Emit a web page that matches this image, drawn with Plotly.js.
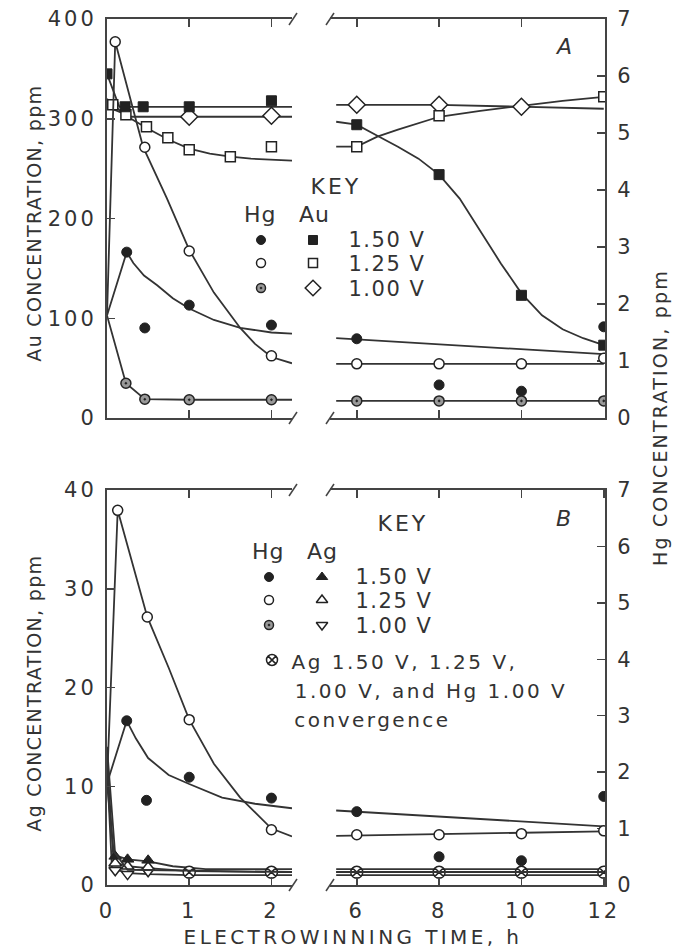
<!DOCTYPE html>
<html><head><meta charset="utf-8">
<script src="https://cdn.plot.ly/plotly-3.0.1.min.js"></script>
<style>
body{margin:0;background:#fff}
#chart g[class$="tick"] text{letter-spacing:3px}
</style>
</head><body><div id="chart" style="width:685px;height:951px"></div>
<script>
// ================= DATA =================
// ---- Panel A : Au (left axis, ppm) ----
const auA150_t = [0, 0.22, 0.44, 1, 2];
const auA150   = [345, 312, 312, 312, 318];
const auA150_fit_t = [0, 0.15, 2.25];
const auA150_fit   = [345, 312, 312];
const auA150R_t = [6, 8, 10, 12];
const auA150R   = [294, 244, 123, 73];
const auA150R_fit_t = [5.5, 6, 6.5, 7, 7.5, 8, 8.5, 9, 9.5, 10, 10.5, 11, 11.5, 12];
const auA150R_fit   = [297, 294, 283, 272, 260, 244, 220, 188, 155, 125, 103, 89, 80, 73];

const auA125_t = [0.07, 0.23, 0.48, 0.74, 1, 1.5, 2];
const auA125   = [314, 304, 292, 281, 269, 262, 272];
const auA125_fit_t = [0, 0.07, 0.25, 0.5, 0.75, 1, 1.25, 1.5, 1.75, 2, 2.25];
const auA125_fit   = [320, 314, 302, 290, 279, 270, 265, 262, 260, 259, 258];
const auA125R_t = [6, 8, 12];
const auA125R   = [272, 303, 322];
const auA125R_fit_t = [5.5, 6, 6.5, 7, 8, 9, 10, 11, 12];
const auA125R_fit   = [272, 272, 282, 289, 302, 308, 313, 318, 322];

const auA100_t = [1, 2];
const auA100   = [302, 303];
const auA100_fit_t = [0, 0.3, 2.25];
const auA100_fit   = [312, 302, 302];
const auA100R_t = [6, 8, 10];
const auA100R   = [314, 314, 312];
const auA100R_fit_t = [5.5, 8, 12];
const auA100R_fit   = [314, 314, 310];

// ---- Panel A : Hg (right axis, ppm) ----
const hgA150_t = [0.24, 0.46, 1, 2];
const hgA150   = [2.91, 1.58, 1.98, 1.63];
const hgA150_fit_t = [0, 0.24, 0.32, 0.45, 0.61, 0.8, 1.0, 1.3, 1.62, 2.0, 2.25];
const hgA150_fit   = [1.8, 2.91, 2.72, 2.5, 2.33, 2.1, 1.92, 1.72, 1.58, 1.5, 1.48];
const hgA150R_t = [6, 8, 10, 12];
const hgA150R   = [1.39, 0.58, 0.47, 1.6];
const hgA150R_fit_t = [5.5, 12];
const hgA150R_fit   = [1.40, 1.12];

const hgA125_t = [0.1, 0.46, 1, 2];
const hgA125   = [6.6, 4.75, 2.93, 1.09];
const hgA125_fit_t = [0, 0.1, 0.44, 0.73, 1.0, 1.3, 1.62, 1.8, 2.0, 2.25];
const hgA125_fit   = [1.8, 6.6, 4.75, 3.85, 2.95, 2.2, 1.58, 1.3, 1.07, 0.96];
const hgA125R_t = [6, 8, 10, 12];
const hgA125R   = [0.95, 0.95, 0.95, 1.05];
const hgA125R_fit_t = [5.5, 12];
const hgA125R_fit   = [0.95, 0.95];

const hgA100_t = [0.23, 0.46, 1, 2];
const hgA100   = [0.61, 0.33, 0.32, 0.32];
const hgA100_fit_t = [0, 0.23, 0.46, 1, 2.25];
const hgA100_fit   = [1.8, 0.61, 0.33, 0.32, 0.32];
const hgA100R_t = [6, 8, 10, 12];
const hgA100R   = [0.30, 0.30, 0.30, 0.30];
const hgA100R_fit_t = [5.5, 12];
const hgA100R_fit   = [0.30, 0.30];

// ---- Panel B : Ag (left axis, ppm) ----
const agB150_t = [0.1, 0.25, 0.5];
const agB150   = [2.9, 2.6, 2.5];
const agB150_fit_t = [0, 0.1, 0.25, 0.5, 0.8, 1.2, 2.25];
const agB150_fit   = [14, 3.0, 2.6, 2.4, 1.9, 1.6, 1.6];
const agB125_t = [0.1, 0.25, 0.5];
const agB125   = [2.2, 1.9, 1.8];
const agB125_fit_t = [0, 0.08, 0.25, 0.5, 1, 2.25];
const agB125_fit   = [13, 2.3, 1.9, 1.7, 1.4, 1.3];
const agB100_t = [0.1, 0.25, 0.5];
const agB100   = [1.5, 1.1, 1.4];
const agB100_fit_t = [0, 0.06, 0.25, 0.5, 1, 2.25];
const agB100_fit   = [12, 1.7, 1.2, 1.1, 1.0, 1.0];
const agBR_fit_t = [5.5, 12];
const agB150R_fit = [1.6, 1.6];
const agB125R_fit = [1.3, 1.3];
const agB100R_fit = [1.0, 1.0];
const convL_t = [1, 2];
const convL   = [1.3, 1.3];
const convR_t = [6, 8, 10, 12];
const convR   = [1.3, 1.3, 1.3, 1.3];

// ---- Panel B : Hg (right axis, ppm) ----
const hgB150_t = [0.24, 0.48, 1, 2];
const hgB150   = [2.91, 1.5, 1.91, 1.54];
const hgB150_fit_t = [0, 0.24, 0.35, 0.5, 0.75, 1.0, 1.4, 1.8, 2.25];
const hgB150_fit   = [1.8, 2.91, 2.6, 2.25, 1.95, 1.79, 1.55, 1.44, 1.36];
const hgB150R_t = [6, 8, 10, 12];
const hgB150R   = [1.30, 0.50, 0.43, 1.57];
const hgB150R_fit_t = [5.5, 12];
const hgB150R_fit   = [1.32, 1.04];

const hgB125_t = [0.13, 0.49, 1, 2];
const hgB125   = [6.64, 4.75, 2.93, 0.98];
const hgB125_fit_t = [0, 0.13, 0.49, 0.75, 1.0, 1.3, 1.62, 2.0, 2.25];
const hgB125_fit   = [1.8, 6.64, 4.75, 3.85, 2.93, 2.15, 1.55, 1.0, 0.86];
const hgB125R_t = [6, 8, 10, 12];
const hgB125R   = [0.89, 0.89, 0.91, 0.96];
const hgB125R_fit_t = [5.5, 12];
const hgB125R_fit   = [0.87, 0.95];

const hgB100_fit_t = [0, 0.08, 0.25, 2.25];
const hgB100_fit   = [1.8, 0.6, 0.27, 0.23];
const hgB100R_fit_t = [5.5, 12];
const hgB100R_fit   = [0.23, 0.23];

// tick values
const auTicks = [0, 100, 200, 300, 400];
const agTicks = [0, 10, 20, 30, 40];
const hgTicks = [0, 1, 2, 3, 4, 5, 6, 7];
const earlyTicks = [0, 1, 2];
const lateTicks = [6, 8, 10, 12];

// ================= STYLE / LAYOUT =================
const FONT = 'DejaVu Sans';
const INK = '#333';
const L = 107, R = 605, T = 19, B = 885;      // plot area in px
const W = R - L, H = B - T;
const px = x => (x - L) / W;
const py = y => (B - y) / H;
const dx1 = px(292), dx2 = px(330);
const dA0 = py(418), dB1 = py(490);

const M = {
  filled: {symbol:'circle', size:10, color:'#222', line:{color:'#222', width:1}},
  open:   {symbol:'circle', size:10, color:'#fff', line:{color:'#222', width:1.5}},
  half:   {symbol:'circle-dot', size:10, color:'#999', line:{color:'#222', width:1.5}},
  sqF:    {symbol:'square', size:10, color:'#222', line:{color:'#222', width:1}},
  sqO:    {symbol:'square', size:10, color:'#fff', line:{color:'#222', width:1.5}},
  dia:    {symbol:'diamond', size:13, color:'#fff', line:{color:'#222', width:1.5}},
  triF:   {symbol:'triangle-up', size:11, color:'#222', line:{color:'#222', width:1}},
  triO:   {symbol:'triangle-up', size:11, color:'#fff', line:{color:'#222', width:1.5}},
  triD:   {symbol:'triangle-down', size:11, color:'#fff', line:{color:'#222', width:1.5}},
  conv:   {symbol:'circle-x', size:12, color:'#fff', line:{color:'#222', width:1.5}}
};

const traces = [];
function fit(t, v, xa, ya, w) {
  traces.push({x:t, y:v, xaxis:xa, yaxis:ya, mode:'lines', line:{color:'#333', width:w||1.8}, hoverinfo:'skip'});
}
function pts(t, v, xa, ya, m) {
  traces.push({x:t, y:v, xaxis:xa, yaxis:ya, mode:'markers', marker:m, hoverinfo:'skip'});
}

// Panel A lines
fit(auA150_fit_t, auA150_fit, 'x', 'y');
fit(auA125_fit_t, auA125_fit, 'x', 'y');
fit(auA100_fit_t, auA100_fit, 'x', 'y');
fit(auA150R_fit_t, auA150R_fit, 'x2', 'y');
fit(auA125R_fit_t, auA125R_fit, 'x2', 'y');
fit(auA100R_fit_t, auA100R_fit, 'x2', 'y');
fit(hgA150_fit_t, hgA150_fit, 'x', 'y2');
fit(hgA125_fit_t, hgA125_fit, 'x', 'y2');
fit(hgA100_fit_t, hgA100_fit, 'x', 'y2');
fit(hgA150R_fit_t, hgA150R_fit, 'x2', 'y2');
fit(hgA125R_fit_t, hgA125R_fit, 'x2', 'y2');
fit(hgA100R_fit_t, hgA100R_fit, 'x2', 'y2');
// Panel A markers
pts(auA100_t, auA100, 'x', 'y', M.dia);
pts(auA100R_t, auA100R, 'x2', 'y', M.dia);
pts(auA125_t, auA125, 'x', 'y', M.sqO);
pts(auA125R_t, auA125R, 'x2', 'y', M.sqO);
pts(auA150_t, auA150, 'x', 'y', M.sqF);
pts(auA150R_t, auA150R, 'x2', 'y', M.sqF);
pts(hgA150_t, hgA150, 'x', 'y2', M.filled);
pts(hgA150R_t, hgA150R, 'x2', 'y2', M.filled);
pts(hgA125_t, hgA125, 'x', 'y2', M.open);
pts(hgA125R_t, hgA125R, 'x2', 'y2', M.open);
pts(hgA100_t, hgA100, 'x', 'y2', M.half);
pts(hgA100R_t, hgA100R, 'x2', 'y2', M.half);

// Panel B lines
fit(agB150_fit_t, agB150_fit, 'x3', 'y3');
fit(agB125_fit_t, agB125_fit, 'x3', 'y3');
fit(agB100_fit_t, agB100_fit, 'x3', 'y3');
fit(agBR_fit_t, agB150R_fit, 'x4', 'y3');
fit(agBR_fit_t, agB125R_fit, 'x4', 'y3');
fit(agBR_fit_t, agB100R_fit, 'x4', 'y3');
fit(hgB150_fit_t, hgB150_fit, 'x3', 'y4');
fit(hgB125_fit_t, hgB125_fit, 'x3', 'y4');
fit(hgB100_fit_t, hgB100_fit, 'x3', 'y4');
fit(hgB150R_fit_t, hgB150R_fit, 'x4', 'y4');
fit(hgB125R_fit_t, hgB125R_fit, 'x4', 'y4');
fit(hgB100R_fit_t, hgB100R_fit, 'x4', 'y4');
// Panel B markers
pts(agB100_t, agB100, 'x3', 'y3', M.triD);
pts(agB125_t, agB125, 'x3', 'y3', M.triO);
pts(agB150_t, agB150, 'x3', 'y3', M.triF);
pts(convL_t, convL, 'x3', 'y3', M.conv);
pts(convR_t, convR, 'x4', 'y3', M.conv);
pts(hgB150_t, hgB150, 'x3', 'y4', M.filled);
pts(hgB150R_t, hgB150R, 'x4', 'y4', M.filled);
pts(hgB125_t, hgB125, 'x3', 'y4', M.open);
pts(hgB125R_t, hgB125R, 'x4', 'y4', M.open);

// ---- Key markers (on a pixel-unit overlay axis) ----
const keyMarks = [
  [261, 240, M.filled], [261, 263, M.open], [261, 288, M.half],
  [313, 240, M.sqF], [313, 263, M.sqO], [313, 288, M.dia],
  [269, 577, M.filled], [269, 600, M.open], [269, 625, M.half],
  [322, 577, M.triF], [322, 600, M.triO], [322, 625, M.triD],
  [272, 660, M.conv]
];
keyMarks.forEach(k => traces.push({x:[k[0]], y:[k[1]], xaxis:'x5', yaxis:'y5', mode:'markers',
  marker:Object.assign({}, k[2], {size:k[2].size - 1}), hoverinfo:'skip'}));

const base = {showline:true, linecolor:'#444', linewidth:2, showgrid:false, zeroline:false,
  ticks:'inside', ticklen:8, tickwidth:1.5, tickcolor:'#444',
  tickfont:{family:FONT, size:21, color:INK}};

const ann = [], spacing = [];
function txt(x, y, s, size, sp, opts) {
  ann.push(Object.assign({xref:'paper', yref:'paper', x:px(x), y:py(y), text:s, showarrow:false,
    font:{family:FONT, size:size, color:INK}, xanchor:'center', yanchor:'middle'}, opts||{}));
  spacing.push(sp || 0);
}
// axis titles
txt(34, 223, 'Au CONCENTRATION, ppm', 19, 1.3, {textangle:-90});
txt(34, 693, 'Ag CONCENTRATION, ppm', 19, 1.3, {textangle:-90});
txt(660, 418, 'Hg CONCENTRATION, ppm', 19, 2.2, {textangle:-90});
txt(353, 937, 'ELECTROWINNING TIME, h', 20, 3.4);
// panel letters
txt(563, 47, '<i>A</i>', 22, 0);
txt(563, 518, '<i>B</i>', 22, 0);
// key A
txt(336, 186, 'KEY', 22, 3);
txt(260, 214, 'Hg', 22, 1);
txt(314, 214, 'Au', 22, 1);
txt(387, 240, '1.50 V', 21, 1.5);
txt(387, 264, '1.25 V', 21, 1.5);
txt(387, 289, '1.00 V', 21, 1.5);
// key B
txt(403, 523, 'KEY', 22, 3);
txt(268, 552, 'Hg', 22, 1);
txt(322, 552, 'Ag', 22, 1);
txt(394, 577, '1.50 V', 21, 1.5);
txt(394, 601, '1.25 V', 21, 1.5);
txt(394, 626, '1.00 V', 21, 1.5);
txt(404, 662, 'Ag 1.50 V, 1.25 V,', 20, 2.5);
txt(431, 691, '1.00 V, and Hg 1.00 V', 20, 2.5);
txt(372, 720, 'convergence', 20, 2.5);

// break marks
const shapes = [];
[19, 418, 490, 885].forEach(yy => {
  [293, 330].forEach(xx => {
    shapes.push({type:'line', xref:'paper', yref:'paper', x0:px(xx-4), y0:py(yy+6), x1:px(xx+4), y1:py(yy-6),
      line:{color:'#444', width:1.5}});
  });
});

const layout = {
  width:685, height:951, showlegend:false,
  margin:{l:L, r:685-R, t:T, b:951-B},
  paper_bgcolor:'#fff', plot_bgcolor:'rgba(0,0,0,0)',
  xaxis: Object.assign({}, base, {domain:[0, dx1], range:[0, 2.25], anchor:'y', mirror:'ticks', tickvals:[1, 2], showticklabels:false}),
  xaxis2:Object.assign({}, base, {domain:[dx2, 1], range:[5.35, 12.03], anchor:'y', mirror:'ticks', tickvals:[6, 8, 10], showticklabels:false}),
  xaxis3:Object.assign({}, base, {domain:[0, dx1], range:[0, 2.25], anchor:'y3', mirror:'ticks', tickvals:earlyTicks, ticklabelstandoff:6}),
  xaxis4:Object.assign({}, base, {domain:[dx2, 1], range:[5.35, 12.03], anchor:'y3', mirror:'ticks', tickvals:lateTicks, ticklabelstandoff:6}),
  yaxis: Object.assign({}, base, {domain:[dA0, 1], range:[0, 400], anchor:'x', side:'left', tickvals:auTicks, ticklabelstandoff:4}),
  yaxis2:Object.assign({}, base, {overlaying:'y', range:[0, 7], anchor:'x2', side:'right', tickvals:hgTicks, ticklabelstandoff:6}),
  yaxis3:Object.assign({}, base, {domain:[0, dB1], range:[0, 40], anchor:'x3', side:'left', tickvals:agTicks, ticklabelstandoff:4}),
  yaxis4:Object.assign({}, base, {overlaying:'y3', range:[0, 7], anchor:'x4', side:'right', tickvals:hgTicks, ticklabelstandoff:6}),
  xaxis5:{domain:[0, 1], range:[L, R], visible:false, anchor:'y5', fixedrange:true},
  yaxis5:{domain:[0, 1], range:[B, T], visible:false, anchor:'x5', fixedrange:true},
  annotations: ann,
  shapes: shapes
};

Plotly.newPlot('chart', traces, layout, {staticPlot:true}).then(gd => {
  gd.querySelectorAll('g.annotation').forEach(g => {
    const i = +g.getAttribute('data-index');
    const t = g.querySelector('text');
    if (t && spacing[i]) t.style.letterSpacing = spacing[i] + 'px';
  });
});
</script>
</body></html>
